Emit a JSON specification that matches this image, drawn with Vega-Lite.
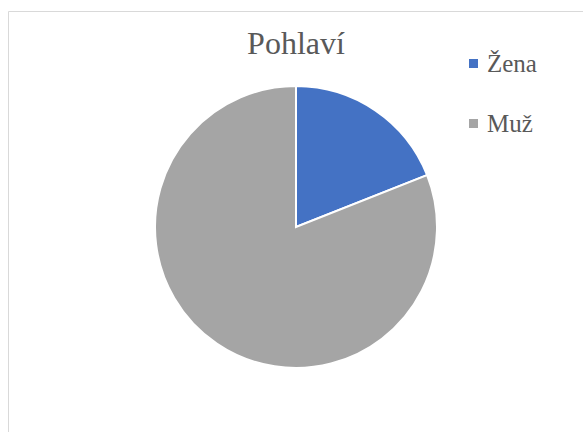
{
  "$schema": "https://vega.github.io/schema/vega-lite/v6.json",
  "autosize": {"type": "none"},
  "width": 576,
  "height": 432,
  "padding": {"left": 8, "top": 11, "right": 0, "bottom": 0},
  "background": "white",
  "view": {"stroke": "#D9D9D9", "strokeWidth": 1, "fill": "white"},
  "config": {
    "view": {"stroke": "#D9D9D9", "strokeWidth": 1}
  },
  "title": {
    "text": "Pohlaví",
    "font": "Liberation Serif",
    "fontSize": 32,
    "fontWeight": "normal",
    "color": "#595959",
    "anchor": "middle",
    "frame": "group",
    "orient": "top",
    "baseline": "alphabetic",
    "offset": -30,
    "dy": 45
  },
  "data": {
    "values": [
      {"pohlavi": "Žena", "podil": 19, "poradi": 1},
      {"pohlavi": "Muž", "podil": 81, "poradi": 2}
    ]
  },
  "mark": {"type": "arc", "outerRadius": 141, "stroke": "white", "strokeWidth": 2},
  "encoding": {
    "theta": {"field": "podil", "type": "quantitative", "stack": true},
    "order": {"field": "poradi", "type": "quantitative"},
    "color": {
      "field": "pohlavi",
      "type": "nominal",
      "scale": {"domain": ["Žena", "Muž"], "range": ["#4472C4", "#A5A5A5"]},
      "legend": {
        "title": null,
        "orient": "none",
        "legendX": 453,
        "legendY": 40,
        "symbolType": "square",
        "symbolSize": 81,
        "symbolStrokeWidth": 0,
        "labelFont": "Liberation Serif",
        "labelFontSize": 25,
        "labelColor": "#595959",
        "labelOffset": 1,
        "rowPadding": 34,
        "padding": 0
      }
    }
  }
}
